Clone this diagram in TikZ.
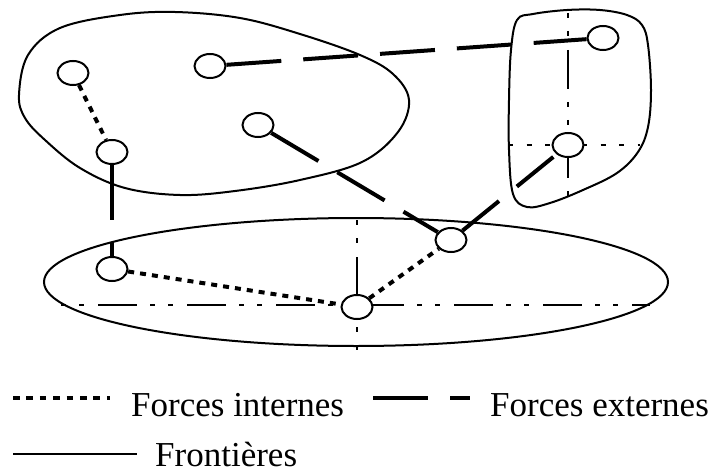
\documentclass[tikz,border=0pt]{standalone}
\usepackage{fontspec}
\setmainfont{Liberation Serif}
\usetikzlibrary{shapes.geometric}
\begin{document}
\begin{tikzpicture}[x=1pt,y=-1pt,
  part/.style={draw, line width=2pt, ellipse, minimum width=31pt, minimum height=24pt, inner sep=0pt, fill=white},
  boundary/.style={line width=2pt},
  ext/.style={line width=4pt, dash pattern=on 55pt off 22pt},
  extb/.style={line width=4pt, dash pattern=on 47pt off 23pt},
  int/.style={line width=4pt, dash pattern=on 6pt off 6pt},
  axis/.style={line width=2.8pt, dash pattern=on 5pt off 13pt on 5pt off 14pt on 39pt off 13pt},
  axisdot/.style={line width=2.8pt, dash pattern=on 5pt off 13.5pt},
  legtext/.style={anchor=base west, inner sep=0pt, text depth=0pt, font=\fontsize{35}{40}\selectfont}]
\useasboundingbox (0,0) rectangle (711,473);
% boundaries
\draw[boundary] plot[smooth cycle, tension=0.6] coordinates {(19,95) (28,55) (60,28) (120,15) (175,12) (240,18) (300,34) (360,55) (393,74) (409,100) (398,132) (362,162) (300,180) (235,191) (180,195) (125,188) (80,168) (45,140) (25,118)};
\draw[boundary] plot[smooth cycle, tension=0.6] coordinates {(509,100) (511,50) (517,20) (533,14) (567,10) (600,10) (627,15) (642,25) (648,45) (651,90) (648,127) (638,152) (617,173) (583,190) (550,203) (527,207) (513,194) (509,150)};
\draw[boundary] (356,282) ellipse [x radius=312pt, y radius=64pt];
% axes
\coordinate (hl) at (61,305); \coordinate (hr) at (650,305);
\coordinate (vt) at (357,220); \coordinate (vb) at (357,350);
\coordinate (rt) at (568,13); \coordinate (rb) at (568,196);
\coordinate (rl) at (508,145); \coordinate (rr) at (640,145);
\draw[axis] (hl) -- (hr);
\draw[axis] (vt) -- (vb);
\draw[axis] (rt) -- (rb);
\draw[axisdot] (rl) -- (rr);
% particles
\node[part] (A) at (73,73) {};
\node[part] (B) at (210,66) {};
\node[part] (C) at (258,125) {};
\node[part] (D) at (112,152) {};
\node[part] (E) at (603,38) {};
\node[part] (F) at (568,145) {};
\node[part] (G) at (112,269) {};
\node[part] (H) at (357,307) {};
\node[part] (I) at (451,240) {};
% forces
\draw[int] (A) -- (D);
\draw[int] (G) -- (H);
\draw[int] (H) -- (I);
\draw[ext] (B) -- (E);
\draw[ext] (D) -- (G);
\draw[ext] (C) -- (I);
\draw[extb] (I) -- (F);
% legend
\coordinate (l1a) at (13,398); \coordinate (l1b) at (110,398);
\coordinate (l2a) at (373,398); \coordinate (l2b) at (470,398);
\coordinate (l3a) at (13,454); \coordinate (l3b) at (137,454);
\draw[line width=4pt, dash pattern=on 6.5pt off 6.9pt] (l1a) -- (l1b);
\node[legtext] (t1) at (131,416) {Forces internes};
\draw[ext] (l2a) -- (l2b);
\node[legtext] (t2) at (490,416) {Forces externes};
\draw[boundary] (l3a) -- (l3b);
\node[legtext] (t3) at (155,466) {Frontières};
\end{tikzpicture}
\end{document}
